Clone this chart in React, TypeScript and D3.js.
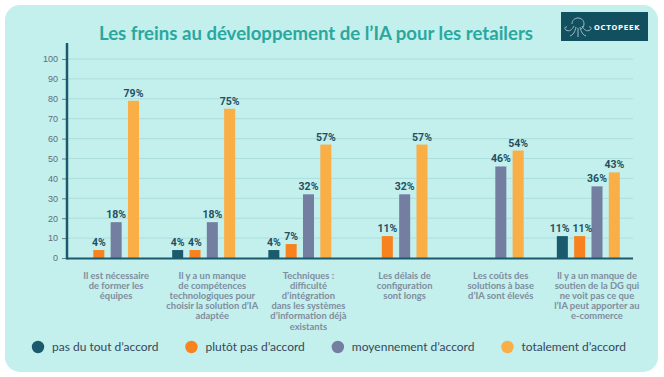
import React, { useEffect, useRef } from "react";
import * as d3 from "d3";

const categories = ["c1", "c2", "c3", "c4", "c5", "c6"];
const categoryLines: string[][] = [
  ["Il est nécessaire", "de former les", "équipes"],
  ["Il y a un manque", "de compétences", "technologiques pour", "choisir la solution d’IA", "adaptée"],
  ["Techniques :", "difficulté", "d’intégration", "dans les systèmes", "d’information déjà", "existants"],
  ["Les délais de", "configuration", "sont longs"],
  ["Les coûts des", "solutions à base", "d’IA sont élevés"],
  ["Il y a un manque de", "soutien de la DG qui", "ne voit pas ce que", "l’IA peut apporter au", "e-commerce"],
];
const seriesNames = ["pas du tout d’accord", "plutôt pas d’accord", "moyennement d’accord", "totalement d’accord"];
const seriesColors = ["#1b5a6d", "#f7821e", "#747ea0", "#f9ae46"];
const pasDuTout: (number | null)[] = [null, 4, 4, null, null, 11];
const plutotPas: (number | null)[] = [4, 4, 7, 11, null, 11];
const moyennement: (number | null)[] = [18, 18, 32, 32, 46, 36];
const totalement: (number | null)[] = [79, 75, 57, 57, 54, 43];
const seriesValues = [pasDuTout, plutotPas, moyennement, totalement];
const yTicks = [0, 10, 20, 30, 40, 50, 60, 70, 80, 90, 100];
const title = "Les freins au développement de l’IA pour les retailers";

export default function App() {
  const ref = useRef<SVGSVGElement | null>(null);

  useEffect(() => {
    const svg = d3.select(ref.current);
    svg.selectAll("*").remove();
    const W = 664, H = 377;

    svg.append("rect").attr("width", W).attr("height", H).attr("fill", "#ffffff");
    svg.append("rect").attr("x", 5).attr("y", 5).attr("width", 653).attr("height", 367)
      .attr("rx", 15).attr("fill", "#c3efed");

    // title
    svg.append("text").attr("x", 316).attr("y", 40).attr("text-anchor", "middle")
      .attr("font-family", "Lato, sans-serif").attr("font-weight", 700).attr("font-size", 18.6)
      .attr("fill", "#2aa89f").text(title);

    // logo
    const logo = svg.append("g");
    logo.append("rect").attr("x", 561).attr("y", 12).attr("width", 87).attr("height", 29).attr("fill", "#12505f");
    const ic = logo.append("g").attr("fill", "none").attr("stroke", "#9fbcc6").attr("stroke-width", 1);
    ic.append("path").attr("d", "M572,24 C572,16 584,16 584,24 C584,27 582,28 581,29");
    ic.append("path").attr("d", "M574,26 C572,30 569,32 566,30 C564,29 565,26 567,27");
    ic.append("path").attr("d", "M582,26 C584,30 587,32 590,30 C592,29 591,26 589,27");
    ic.append("path").attr("d", "M576,27 C575,32 573,35 570,36");
    ic.append("path").attr("d", "M580,27 C581,32 583,35 586,36");
    ic.append("path").attr("d", "M578,28 L578,37");
    logo.append("text").attr("x", 594).attr("y", 30)
      .attr("font-family", "'DejaVu Sans', sans-serif").attr("font-weight", 700).attr("font-size", 6.8)
      .attr("letter-spacing", 0.7).attr("fill", "#ffffff").text("OCTOPEEK");

    const y = d3.scaleLinear().domain([0, 100]).range([258, 59]);
    const x0 = d3.scaleBand().domain(categories).range([60, 637]);
    const x1 = d3.scaleBand().domain(seriesNames).range([16, 79]).paddingInner(0.364);

    // grid
    svg.append("g").selectAll("line").data(yTicks.filter(t => t > 0)).join("line")
      .attr("x1", 67).attr("x2", 633).attr("y1", d => y(d)).attr("y2", d => y(d))
      .attr("stroke", "#abdedd").attr("stroke-width", 1);

    // y axis
    const yAxis = d3.axisLeft(y).tickValues(yTicks).tickSize(5).tickPadding(4).tickFormat(d3.format("d"));
    const ya = svg.append("g").attr("transform", "translate(67,0)").call(yAxis);
    ya.select(".domain").remove();
    ya.selectAll(".tick line").attr("stroke", "#6d808e");
    ya.selectAll(".tick text").attr("fill", "#5c6d7e").attr("font-size", 9)
      .attr("font-family", "'Liberation Sans', Arial, sans-serif");

    // bars
    const gBars = svg.append("g");
    categories.forEach((c, ci) => {
      const labels: { x: number; y: number; v: number; w: number }[] = [];
      seriesNames.forEach((s, si) => {
        const v = seriesValues[si][ci];
        if (v == null) return;
        const bx = (x0(c) as number) + (x1(s) as number);
        gBars.append("rect").attr("x", bx).attr("y", y(v)).attr("width", x1.bandwidth())
          .attr("height", y(0) - y(v)).attr("fill", seriesColors[si]);
        labels.push({ x: bx + x1.bandwidth() / 2, y: y(v) - 4, v, w: 0 });
      });
      const nodes = labels.map(l =>
        gBars.append("text").attr("x", l.x).attr("y", l.y)
          .attr("text-anchor", "middle").attr("font-family", "Roboto, Arial, sans-serif")
          .attr("font-weight", 700).attr("font-size", 10.5).attr("fill", "#1f4f62").text(l.v + "%"));
      nodes.forEach((n, i) => { labels[i].w = (n.node() as SVGTextElement).getComputedTextLength(); });
      // resolve horizontal overlaps between neighbouring labels at similar height
      for (let i = 0; i < labels.length - 1; i++) {
        const a = labels[i], b = labels[i + 1];
        if (Math.abs(a.y - b.y) < 10) {
          const overlap = (a.x + a.w / 2) - (b.x - b.w / 2) + 3;
          if (overlap > 0) {
            a.x -= overlap / 2; b.x += overlap / 2;
            nodes[i].attr("x", a.x); nodes[i + 1].attr("x", b.x);
          }
        }
      }
    });

    // axis lines
    svg.append("line").attr("x1", 67).attr("x2", 633).attr("y1", 258.5).attr("y2", 258.5)
      .attr("stroke", "#1b5a6d").attr("stroke-width", 2);
    svg.append("line").attr("x1", 67).attr("x2", 67).attr("y1", 43).attr("y2", 259.5)
      .attr("stroke", "#1b5a6d").attr("stroke-width", 2.5);

    // category labels
    const gCat = svg.append("g");
    categories.forEach((c, ci) => {
      const cx = (x0(c) as number) + x0.bandwidth() / 2 + 8;
      const t = gCat.append("text").attr("text-anchor", "middle")
        .attr("font-family", "Lato, sans-serif").attr("font-weight", 700).attr("font-size", 9.4)
        .attr("fill", "#808d9e");
      categoryLines[ci].forEach((ln, li) => {
        t.append("tspan").attr("x", cx).attr("y", 278.5 + li * 10.2).text(ln);
      });
    });

    // legend
    const gLeg = svg.append("g");
    let lx = 38;
    seriesNames.forEach((s, si) => {
      gLeg.append("circle").attr("cx", lx).attr("cy", 347).attr("r", 6.2).attr("fill", seriesColors[si]);
      const t = gLeg.append("text").attr("x", lx + 14).attr("y", 351)
        .attr("font-family", "Lato, sans-serif").attr("font-size", 12).attr("fill", "#34485a").text(s);
      const w = (t.node() as SVGTextElement).getComputedTextLength();
      lx = lx + 14 + w + 33;
    });
  }, []);

  return (
    <svg ref={ref} width={664} height={377}
      style={{ position: "absolute", left: 0, top: 0, display: "block" }} />
  );
}
